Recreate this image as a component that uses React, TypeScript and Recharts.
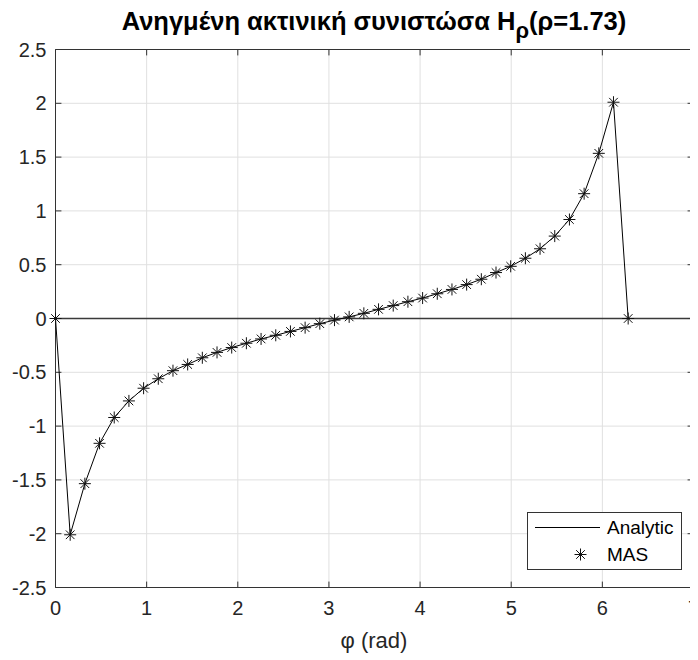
import React from "react";
import { ComposedChart, Line, XAxis, YAxis, CartesianGrid, ReferenceLine } from "recharts";

// angle samples (rad), 40 points from 0 to 2π
const phi = [
  0, 0.1611, 0.3222, 0.4833, 0.6444, 0.8055, 0.9666, 1.1277, 1.2889, 1.45,
  1.6111, 1.7722, 1.9333, 2.0944, 2.2555, 2.4166, 2.5777, 2.7388, 2.8999, 3.061,
  3.2221, 3.3832, 3.5444, 3.7055, 3.8666, 4.0277, 4.1888, 4.3499, 4.511, 4.6721,
  4.8332, 4.9943, 5.1554, 5.3165, 5.4776, 5.6387, 5.7999, 5.961, 6.1221, 6.2832,
];

const analytic = [
  0, -2.01, -1.535, -1.16, -0.92, -0.766, -0.648, -0.56, -0.485, -0.427,
  -0.365, -0.315, -0.27, -0.23, -0.19, -0.156, -0.12, -0.085, -0.048, -0.015,
  0.015, 0.048, 0.085, 0.12, 0.156, 0.19, 0.23, 0.27, 0.315, 0.365,
  0.427, 0.485, 0.56, 0.648, 0.766, 0.92, 1.16, 1.535, 2.01, 0,
];

const mas = [
  0, -2.01, -1.535, -1.16, -0.92, -0.766, -0.648, -0.56, -0.485, -0.427,
  -0.365, -0.315, -0.27, -0.23, -0.19, -0.156, -0.12, -0.085, -0.048, -0.015,
  0.015, 0.048, 0.085, 0.12, 0.156, 0.19, 0.23, 0.27, 0.315, 0.365,
  0.427, 0.485, 0.56, 0.648, 0.766, 0.92, 1.16, 1.535, 2.01, 0,
];

const xTicks = [0, 1, 2, 3, 4, 5, 6, 7];
const yTicks = [-2.5, -2, -1.5, -1, -0.5, 0, 0.5, 1, 1.5, 2, 2.5];

const data = phi.map((p, i) => ({ phi: p, analytic: analytic[i], mas: mas[i] }));

const FONT = "'Liberation Sans', Arial, Helvetica, sans-serif";
const AXIS = "#262626";
const BOX = "#333";
const X_MIN = 0, X_MAX = 7, Y_MIN = -2.5, Y_MAX = 2.5;
// inward tick length in data units (about 6px)
const TICK_DX = 0.065, TICK_DY = 0.055;

function Star({ cx, cy, r = 6 }: { cx?: number; cy?: number; r?: number }) {
  if (cx == null || cy == null) return null;
  const d = r * 0.72;
  return (
    <g stroke="#111" strokeWidth={1}>
      <line x1={cx - r} y1={cy} x2={cx + r} y2={cy} />
      <line x1={cx} y1={cy - r} x2={cx} y2={cy + r} />
      <line x1={cx - d} y1={cy - d} x2={cx + d} y2={cy + d} />
      <line x1={cx - d} y1={cy + d} x2={cx + d} y2={cy - d} />
    </g>
  );
}

function BottomTick(props: any) {
  const { x, y, payload } = props;
  return (
    <text x={x} y={y + 19} textAnchor="middle" fill={AXIS} fontSize={20} fontFamily={FONT}>
      {payload.value}
    </text>
  );
}

function LeftTick(props: any) {
  const { x, y, payload } = props;
  return (
    <text x={x - 1} y={y + 7} textAnchor="end" fill={AXIS} fontSize={20} fontFamily={FONT}>
      {payload.value}
    </text>
  );
}

export default function App() {
  return (
    <div style={{ position: "relative", width: 690, height: 652, fontFamily: FONT }}>
      <div
        style={{
          position: "absolute",
          left: 47,
          width: 638,
          top: -2,
          textAlign: "center",
          fontSize: 25.5,
          fontWeight: "bold",
          color: "#000",
          whiteSpace: "nowrap",
          lineHeight: "30px",
        }}
      >
        Ανηγμένη ακτινική συνιστώσα H
        <span style={{ position: "relative", top: 8, fontSize: 22 }}>ρ</span>
        (ρ=1.73)
      </div>

      <ComposedChart width={690} height={652} data={data} margin={{ top: 41.5, right: 4.5, left: 0.5, bottom: 6.5 }}>
        <CartesianGrid stroke="#e0e0e0" strokeWidth={1} />
        <XAxis
          dataKey="phi"
          type="number"
          domain={[X_MIN, X_MAX]}
          ticks={xTicks}
          interval={0}
          height={66}
          tickSize={0}
          tickMargin={8}
          axisLine={false}
          tick={<BottomTick />}
        />
        <YAxis
          type="number"
          domain={[Y_MIN, Y_MAX]}
          ticks={yTicks}
          interval={0}
          width={47}
          tickSize={0}
          tickMargin={8}
          axisLine={false}
          tick={<LeftTick />}
        />
        <ReferenceLine y={0} stroke="#3a3a3a" strokeWidth={1.3} />

        {/* box */}
        <ReferenceLine x={X_MIN} stroke={BOX} strokeWidth={1} ifOverflow="visible" />
        <ReferenceLine x={X_MAX} stroke={BOX} strokeWidth={1} ifOverflow="visible" />
        <ReferenceLine y={Y_MIN} stroke={BOX} strokeWidth={1} ifOverflow="visible" />
        <ReferenceLine y={Y_MAX} stroke={BOX} strokeWidth={1} ifOverflow="visible" />

        {/* inward ticks on all four sides */}
        {xTicks.map((t) => (
          <ReferenceLine key={"xb" + t} segment={[{ x: t, y: Y_MIN }, { x: t, y: Y_MIN + TICK_DY }]} stroke={BOX} ifOverflow="visible" />
        ))}
        {xTicks.map((t) => (
          <ReferenceLine key={"xt" + t} segment={[{ x: t, y: Y_MAX }, { x: t, y: Y_MAX - TICK_DY }]} stroke={BOX} ifOverflow="visible" />
        ))}
        {yTicks.map((t) => (
          <ReferenceLine key={"yl" + t} segment={[{ x: X_MIN, y: t }, { x: X_MIN + TICK_DX, y: t }]} stroke={BOX} ifOverflow="visible" />
        ))}
        {yTicks.map((t) => (
          <ReferenceLine key={"yr" + t} segment={[{ x: X_MAX, y: t }, { x: X_MAX - TICK_DX, y: t }]} stroke={BOX} ifOverflow="visible" />
        ))}

        <Line
          dataKey="analytic"
          type="linear"
          stroke="#000"
          strokeWidth={1}
          dot={false}
          activeDot={false}
          isAnimationActive={false}
        />
        <Line
          dataKey="mas"
          type="linear"
          stroke="none"
          dot={(p: any) => <Star key={p.index} cx={p.cx} cy={p.cy} />}
          activeDot={false}
          isAnimationActive={false}
        />
      </ComposedChart>

      <div
        style={{
          position: "absolute",
          left: 366 - 100,
          width: 200,
          top: 620,
          textAlign: "center",
          fontSize: 22,
          color: AXIS,
          lineHeight: "26px",
        }}
      >
        φ (rad)
      </div>

      <div
        style={{
          position: "absolute",
          left: 519,
          top: 504,
          width: 153,
          height: 56,
          border: `1px solid ${BOX}`,
          background: "#fff",
        }}
      >
        <svg width={153} height={56} style={{ position: "absolute", left: 0, top: 0 }}>
          <line x1={7} y1={14.5} x2={72} y2={14.5} stroke="#000" strokeWidth={1} />
          <Star cx={52.5} cy={41.5} r={6} />
          <text x={79} y={21} fontSize={19} fontFamily={FONT} fill="#000">
            Analytic
          </text>
          <text x={79} y={48} fontSize={19} fontFamily={FONT} fill="#000">
            MAS
          </text>
        </svg>
      </div>
    </div>
  );
}
